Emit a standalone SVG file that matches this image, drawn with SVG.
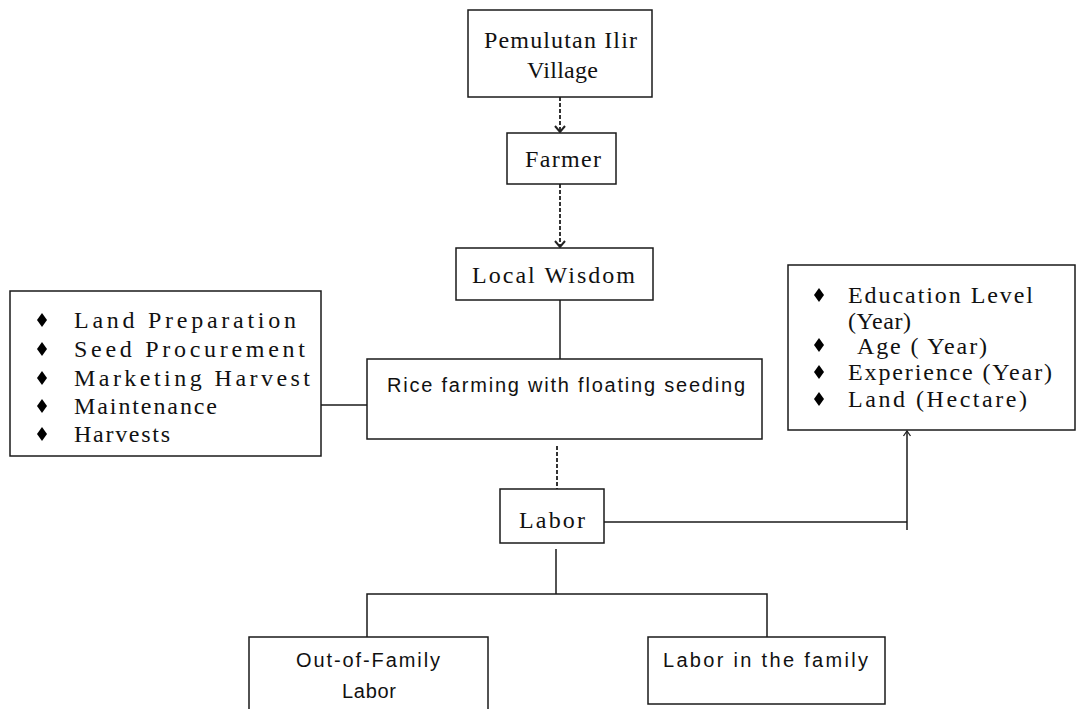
<svg xmlns="http://www.w3.org/2000/svg" width="1091" height="709" viewBox="0 0 1091 709">
<style>
.box{fill:#fff;stroke:#1a1a1a;stroke-width:1.5}
.ser{font-family:"Liberation Serif","Times New Roman",serif;font-size:24px;fill:#111}
.sans{font-family:"Liberation Sans",Arial,sans-serif;font-size:20px;fill:#111}
.ln{fill:none;stroke:#1a1a1a;stroke-width:1.5}
.dash{fill:none;stroke:#333;stroke-width:2;stroke-dasharray:4 2}
.bul{fill:#000}
</style>
<defs>
<marker id="ah" markerWidth="14" markerHeight="12" refX="7" refY="9" orient="0" markerUnits="userSpaceOnUse" viewBox="0 0 14 12">
<path d="M2,3 L7,9 L12,3" fill="none" stroke="#222" stroke-width="2"/>
</marker>
<marker id="ah2" markerWidth="10" markerHeight="10" refX="5" refY="1" orient="0" markerUnits="userSpaceOnUse" viewBox="0 0 10 10">
<path d="M1.5,6 L5,1 L8.5,6" fill="none" stroke="#222" stroke-width="1.3"/>
</marker>
<polygon id="dia" points="0,-7 5,0 0,7 -5,0"/>
</defs>
<g id="connectors">
<line class="dash" x1="560" y1="97" x2="560" y2="132" marker-end="url(#ah)"/>
<line class="dash" x1="560" y1="184" x2="560" y2="247" marker-end="url(#ah)"/>
<line class="ln" x1="560" y1="300" x2="560" y2="359"/>
<line class="ln" x1="321" y1="405" x2="367" y2="405"/>
<line class="dash" x1="557" y1="446" x2="557" y2="489"/>
<polyline class="ln" points="604,522 907,522"/>
<line class="ln" x1="907" y1="530" x2="907" y2="431" marker-end="url(#ah2)"/>
<line class="ln" x1="556" y1="549" x2="556" y2="594"/>
<polyline class="ln" points="367,637 367,594 767,594 767,637"/>
</g>
<g id="village">
<rect class="box" x="468" y="10" width="184" height="87"/>
<text class="ser" x="484" y="48" textLength="153" lengthAdjust="spacing">Pemulutan Ilir</text>
<text class="ser" x="527" y="78" textLength="71" lengthAdjust="spacing">Village</text>
</g>
<g id="farmer">
<rect class="box" x="507" y="133" width="109" height="51"/>
<text class="ser" x="525" y="167" textLength="76" lengthAdjust="spacing">Farmer</text>
</g>
<g id="local-wisdom">
<rect class="box" x="456" y="248" width="197" height="52"/>
<text class="ser" x="472" y="283" textLength="163" lengthAdjust="spacing">Local Wisdom</text>
</g>
<g id="activities">
<rect class="box" x="10" y="291" width="311" height="165"/>
<use href="#dia" class="bul" x="42" y="320"/>
<use href="#dia" class="bul" x="42" y="349"/>
<use href="#dia" class="bul" x="42" y="378"/>
<use href="#dia" class="bul" x="42" y="406"/>
<use href="#dia" class="bul" x="42" y="434"/>
<text class="ser" x="74" y="328" textLength="222" lengthAdjust="spacing">Land Preparation</text>
<text class="ser" x="74" y="357" textLength="231" lengthAdjust="spacing">Seed Procurement</text>
<text class="ser" x="74" y="386" textLength="236" lengthAdjust="spacing">Marketing Harvest</text>
<text class="ser" x="74" y="414" textLength="143" lengthAdjust="spacing">Maintenance</text>
<text class="ser" x="74" y="442" textLength="96" lengthAdjust="spacing">Harvests</text>
</g>
<g id="rice">
<rect class="box" x="367" y="359" width="395" height="80"/>
<text class="sans" x="387" y="392" textLength="358" lengthAdjust="spacing">Rice farming with floating seeding</text>
</g>
<g id="characteristics">
<rect class="box" x="788" y="265" width="287" height="165"/>
<use href="#dia" class="bul" x="819" y="295"/>
<use href="#dia" class="bul" x="819" y="345"/>
<use href="#dia" class="bul" x="819" y="372"/>
<use href="#dia" class="bul" x="819" y="399"/>
<text class="ser" x="848" y="303" textLength="185" lengthAdjust="spacing">Education Level</text>
<text class="ser" x="848" y="329" textLength="63" lengthAdjust="spacing">(Year)</text>
<text class="ser" x="857" y="354" textLength="130" lengthAdjust="spacing">Age ( Year)</text>
<text class="ser" x="848" y="380" textLength="204" lengthAdjust="spacing">Experience (Year)</text>
<text class="ser" x="848" y="407" textLength="179" lengthAdjust="spacing">Land  (Hectare)</text>
</g>
<g id="labor">
<rect class="box" x="500" y="489" width="104" height="54"/>
<text class="ser" x="519" y="528" textLength="66" lengthAdjust="spacing">Labor</text>
</g>
<g id="out-family">
<rect class="box" x="249" y="637" width="239" height="80"/>
<text class="sans" x="296" y="667" textLength="144" lengthAdjust="spacing">Out-of-Family</text>
<text class="sans" x="342" y="698" textLength="54" lengthAdjust="spacing">Labor</text>
</g>
<g id="in-family">
<rect class="box" x="648" y="637" width="237" height="67"/>
<text class="sans" x="663" y="667" textLength="205" lengthAdjust="spacing">Labor in the family</text>
</g>
</svg>
